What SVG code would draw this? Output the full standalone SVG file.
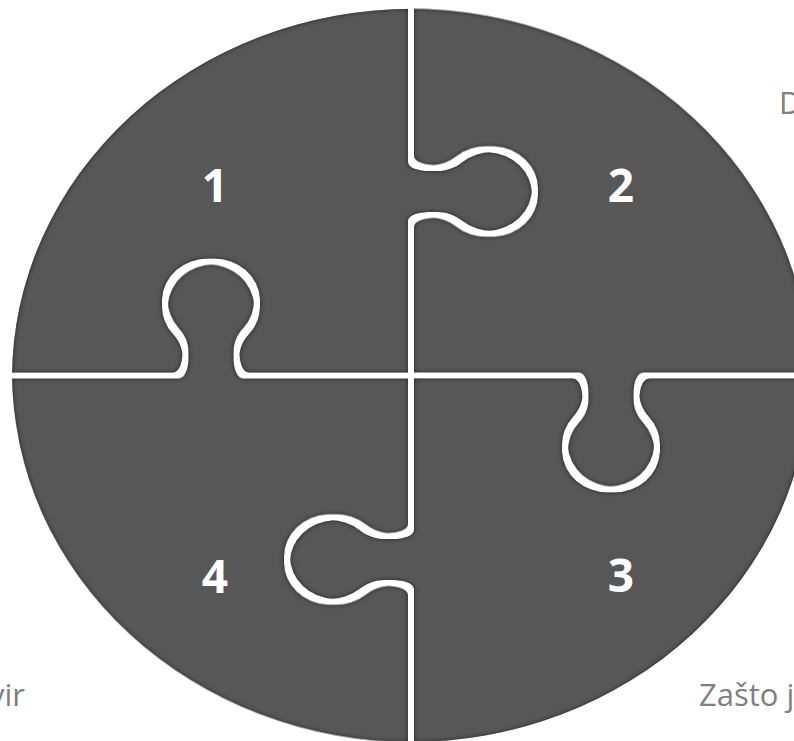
<svg xmlns="http://www.w3.org/2000/svg" width="794" height="741" viewBox="0 0 794 741">
  <style>
    .num { font-family: "Open Sans", "Liberation Sans", sans-serif; font-weight: 700; font-size: 46px; fill: #ffffff; text-anchor: middle; }
    .lbl { font-family: "Open Sans", "Liberation Sans", sans-serif; font-size: 31px; fill: #7f7f7f; }
  </style>
  <defs>
    <path id="pieceShape" d="M 0 0 L -164 0 C -172 0 -174.5 -12 -174.5 -24 C -174.5 -32 -171 -41.2 -165.1 -48 A 46 46 0 1 0 -234.9 -48 C -229 -41.2 -225.5 -32 -225.5 -24 C -225.5 -12 -228 0 -236 0 L -402 0 A 402 402 0 0 1 0 -402 L 0 -236 C 0 -228 12 -225.5 24 -225.5 C 32 -225.5 41.2 -229 48 -234.9 A 46 46 0 1 1 48 -165.1 C 41.2 -171 32 -174.5 24 -174.5 C 12 -174.5 0 -172 0 -164 Z"/>
    <filter id="bevel" x="-5%" y="-5%" width="110%" height="110%" color-interpolation-filters="sRGB">
      <feMorphology in="SourceAlpha" operator="erode" radius="3" result="shape"/>
      <feFlood flood-color="#575757"/>
      <feComposite in2="shape" operator="in" result="base"/>
      <feGaussianBlur in="shape" stdDeviation="2.5" result="blur"/>
      <feComposite in="shape" in2="blur" operator="out" result="rim"/>
      <feFlood flood-color="#1e1e1e" flood-opacity="0.9"/>
      <feComposite in2="rim" operator="in" result="rimc"/>
      <feMerge>
        <feMergeNode in="base"/>
        <feMergeNode in="rimc"/>
      </feMerge>
    </filter>
  </defs>
  <rect width="794" height="741" fill="#ffffff"/>

  <g id="piece1">
    <g transform="translate(411 375.5) scale(1 0.92)" filter="url(#bevel)"><use href="#pieceShape" fill="#575757"/></g>
    <text class="num" x="215" y="202">1</text>
  </g>
  <g id="piece2">
    <g transform="translate(411 375.5) scale(1 0.92) rotate(90)" filter="url(#bevel)"><use href="#pieceShape" fill="#575757"/></g>
    <text class="num" x="621" y="202">2</text>
  </g>
  <g id="piece3">
    <g transform="translate(411 375.5) scale(1 0.92) rotate(180)" filter="url(#bevel)"><use href="#pieceShape" fill="#575757"/></g>
    <text class="num" x="621" y="592">3</text>
  </g>
  <g id="piece4">
    <g transform="translate(411 375.5) scale(1 0.92) rotate(270)" filter="url(#bevel)"><use href="#pieceShape" fill="#575757"/></g>
    <text class="num" x="215" y="593">4</text>
  </g>

  <g id="labels">
    <text class="lbl" x="779" y="114">D</text>
    <text class="lbl" x="25" y="706" text-anchor="end">vir</text>
    <text class="lbl" x="699" y="706">Zašto j</text>
  </g>
  <g id="connectors"/>
</svg>
